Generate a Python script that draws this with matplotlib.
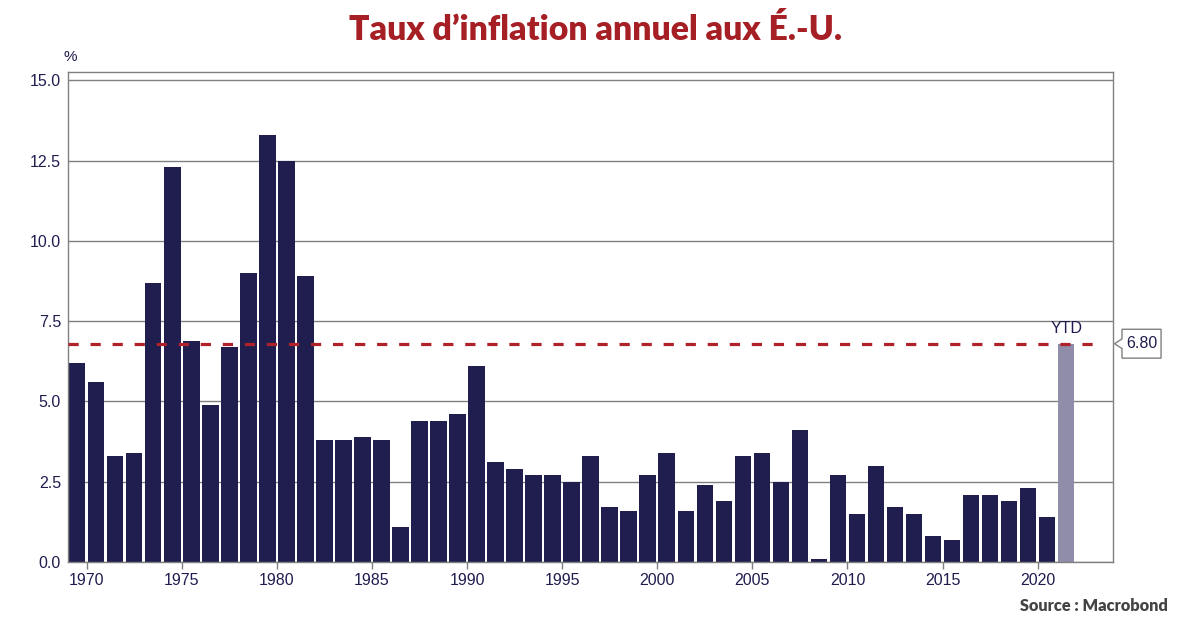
import matplotlib
matplotlib.use("Agg")
import matplotlib.pyplot as plt
import matplotlib.transforms as mtransforms
from matplotlib.patches import Polygon

years = list(range(1969, 2022))
inflation = [6.2, 5.6, 3.3, 3.4, 8.7, 12.3, 6.9, 4.9, 6.7, 9.0,
             13.3, 12.5, 8.9, 3.8, 3.8, 3.9, 3.8, 1.1, 4.4, 4.4,
             4.6, 6.1, 3.1, 2.9, 2.7, 2.7, 2.5, 3.3, 1.7, 1.6,
             2.7, 3.4, 1.6, 2.4, 1.9, 3.3, 3.4, 2.5, 4.1, 0.1,
             2.7, 1.5, 3.0, 1.7, 1.5, 0.8, 0.7, 2.1, 2.1, 1.9,
             2.3, 1.4, 6.8]
ytd_level = 6.80
ytd_label = "YTD"
yticks = [0.0, 2.5, 5.0, 7.5, 10.0, 12.5, 15.0]
xticks = [1970, 1975, 1980, 1985, 1990, 1995, 2000, 2005, 2010, 2015, 2020]

title = "Taux d\u2019inflation annuel aux É.-U."
source = "Source : Macrobond"

NAVY = "#201E4F"
YTD_COL = "#908DAA"
RED = "#B0222A"
GRID = "#808080"
TXT = "#1F1D4F"

plt.rcParams["font.family"] = ["Liberation Sans", "DejaVu Sans"]

fig = plt.figure(figsize=(12, 6.3), dpi=100)
ax = fig.add_axes([68/1200, 1 - 562/630, (1113-68)/1200, (562-71.5)/630])

colors = [NAVY] * (len(years) - 1) + [YTD_COL]
xpos = [y + 0.5 for y in years]
ax.bar(xpos, inflation, width=0.87, color=colors, zorder=2)

ax.axhline(ytd_level, xmin=0, xmax=0.99, color=RED, lw=2.3,
           linestyle=(0, (3.2, 3.7)), zorder=3)

ax.set_xlim(1969.02, 2023.96)
ax.set_ylim(0, 15.28)
ax.set_yticks(yticks)
ax.set_yticklabels([f"{v:.1f}" for v in yticks])
ax.set_xticks(xticks)
ax.set_xticklabels([str(x) for x in xticks])
ax.yaxis.grid(True, color=GRID, lw=1.0, zorder=0)
ax.set_axisbelow(True)
for s in ax.spines.values():
    s.set_color(GRID)
    s.set_linewidth(1.0)
ax.tick_params(axis="y", length=0, pad=5, labelsize=11.5, labelcolor=TXT)
ax.tick_params(axis="x", length=5, width=1, color=GRID, pad=3,
               labelsize=11.5, labelcolor=TXT)

# YTD label
ax.text(xpos[-1], ytd_level + 0.25, ytd_label, ha="center", va="bottom",
        fontsize=11.5, color=TXT)

# value callout box
trans = mtransforms.blended_transform_factory(ax.transAxes, ax.transData)
x0, x1 = 1.0086, 1.046
tip = 1.0015
h = 0.45
n = 0.15
poly = Polygon([[tip, ytd_level], [x0, ytd_level + n], [x0, ytd_level + h],
                [x1, ytd_level + h], [x1, ytd_level - h], [x0, ytd_level - h],
                [x0, ytd_level - n]], closed=True, transform=trans,
               facecolor="white", edgecolor=GRID, lw=1.0, clip_on=False, zorder=5)
ax.add_patch(poly)
ax.text((x0 + x1) / 2, ytd_level, f"{ytd_level:.2f}", transform=trans,
        ha="center", va="center", fontsize=11.5, color=TXT, zorder=6, clip_on=False)

# percent sign
fig.text(63/1200, 1 - 57/630, "%", ha="left", va="center", fontsize=11, color=TXT)

fig.text(596/1200, 1 - 30/630, title, ha="center", va="center",
         fontsize=24.3, fontweight="heavy", color="#A51F24", family=["Lato", "DejaVu Sans"])
fig.text(1168/1200, 1 - 606/630, source, ha="right", va="center",
         fontsize=11.8, fontweight="heavy", color="#444444", family=["Lato", "DejaVu Sans"])

fig.savefig("out.png", dpi=100)
